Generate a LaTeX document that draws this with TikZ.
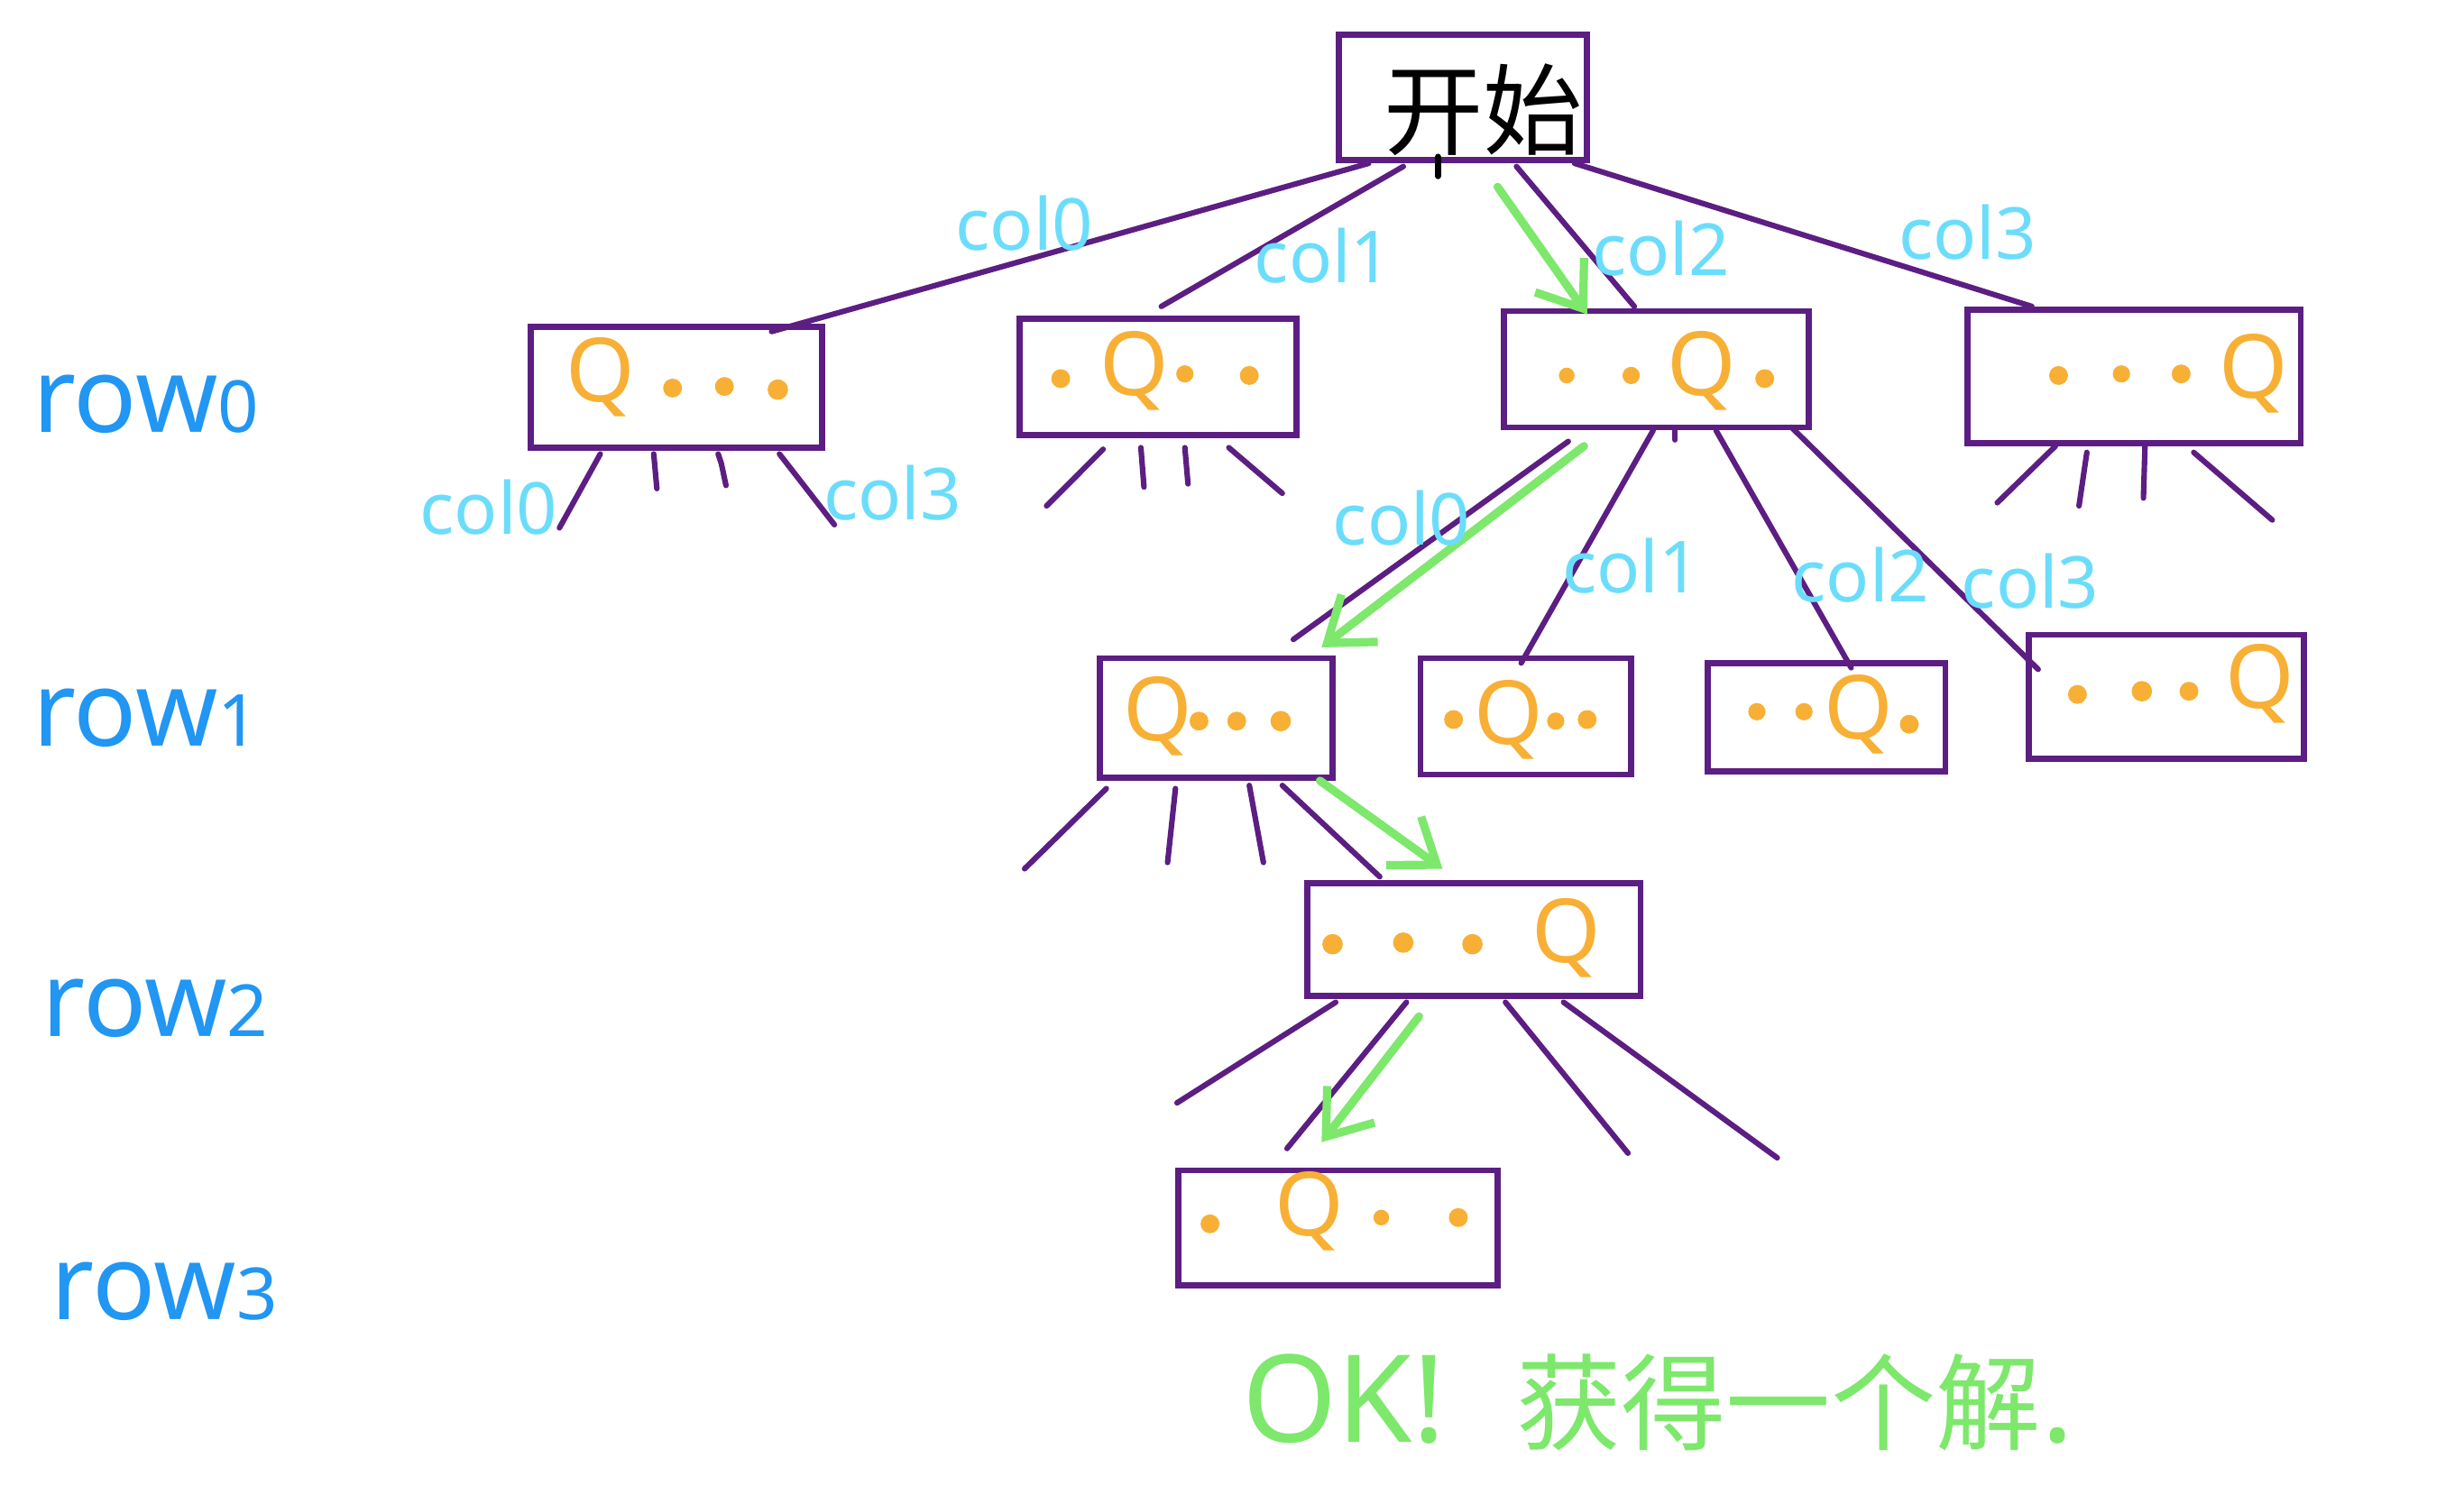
\documentclass[tikz,border=0pt]{standalone}
\usepackage{fontspec}
\setmainfont{Noto Sans}
\newfontfamily\cjk{Noto Sans CJK SC}
\usetikzlibrary{calc,arrows.meta}
\definecolor{pur}{HTML}{5C1E82}
\definecolor{org}{HTML}{F7B035}
\definecolor{lblue}{HTML}{6BDDFB}
\definecolor{dblue}{HTML}{2196F3}
\definecolor{grn}{HTML}{7DE86C}
\begin{document}
\begin{tikzpicture}[x=0.01cm,y=-0.01cm,
  qbox/.style={draw=pur,line width=1.1pt,inner sep=0pt},
  edge/.style={draw=pur,line width=1pt,line cap=round},
  garrow/.style={draw=grn,line width=1.5pt,line cap=round,-{Straight Barb[length=2.6mm,width=3.8mm,line width=1.5pt]}},
  qq/.style={text=org,font=\fontsize{16}{16}\selectfont,inner sep=0pt},
  collab/.style={text=lblue,font=\fontsize{13}{13}\selectfont,inner sep=0pt},
  rowlab/.style={text=dblue,font=\fontsize{19}{19}\selectfont,inner sep=0pt},
  dotf/.style={fill=org}
]
\useasboundingbox (0,0) rectangle (1568,957);

% ---------- boxes ----------
\node[qbox,minimum width=1.58cm,minimum height=0.80cm] (top) at (931,62) {};
\node[qbox,minimum width=1.85cm,minimum height=0.77cm] (B00) at (430.5,246.5) {};
\node[qbox,minimum width=1.76cm,minimum height=0.74cm] (B01) at (737,240) {};
\node[qbox,minimum width=1.94cm,minimum height=0.74cm] (B02) at (1054,235) {};
\node[qbox,minimum width=2.12cm,minimum height=0.85cm] (B03) at (1358,239.5) {};
\node[qbox,minimum width=1.48cm,minimum height=0.76cm] (B10) at (774,457) {};
\node[qbox,minimum width=1.34cm,minimum height=0.74cm] (B11) at (971,456) {};
\node[qbox,minimum width=1.51cm,minimum height=0.69cm] (B12) at (1162.5,456.5) {};
\node[qbox,minimum width=1.75cm,minimum height=0.79cm] (B13) at (1378.5,443.5) {};
\node[qbox,minimum width=2.12cm,minimum height=0.72cm] (B20) at (938,598) {};
\node[qbox,minimum width=2.03cm,minimum height=0.73cm] (B30) at (851.5,781.5) {};

% ---------- start text ----------
\node[font=\cjk\fontsize{18}{18}\selectfont,text=black,inner sep=0pt] (start) at (944,70) {开始};
\draw[black,line width=1.2pt,line cap=round] ($(top.south west)+(65,-4)$) -- ++(0,12);

% ---------- box contents ----------
% B00: Q . . .
\node[qq] (q00) at (382,240) {Q};
\fill[dotf] (428,247) circle (0.06cm) (461,246) circle (0.06cm) (495,248) circle (0.065cm);
% B01: . Q . .
\node[qq] (q01) at (722,236) {Q};
\fill[dotf] (675,241) circle (0.06cm) (754,238) circle (0.055cm) (795,239) circle (0.06cm);
% B02: . . Q .
\node[qq] (q02) at (1083,236) {Q};
\fill[dotf] (997,239) circle (0.05cm) (1038,239) circle (0.055cm) (1123,241) circle (0.06cm);
% B03: . . . Q
\node[qq] (q03) at (1434,238) {Q};
\fill[dotf] (1310,239) circle (0.06cm) (1350,238) circle (0.055cm) (1388,238) circle (0.06cm);
% B10: Q . . .
\node[qq] (q10) at (737,456) {Q};
\fill[dotf] (763,459) circle (0.06cm) (787,459) circle (0.06cm) (815,459) circle (0.065cm);
% B11: . Q . .
\node[qq] (q11) at (960,458) {Q};
\fill[dotf] (925,458) circle (0.06cm) (990,459) circle (0.055cm) (1010,458) circle (0.06cm);
% B12: . . Q .
\node[qq] (q12) at (1183,455) {Q};
\fill[dotf] (1118,453) circle (0.055cm) (1148,453) circle (0.055cm) (1215,461) circle (0.06cm);
% B13: . . . Q
\node[qq] (q13) at (1438,435) {Q};
\fill[dotf] (1322,442) circle (0.06cm) (1363,440) circle (0.065cm) (1393,440) circle (0.06cm);
% B20: . . . Q
\node[qq] (q20) at (997,597) {Q};
\fill[dotf] (848,601) circle (0.065cm) (893,600) circle (0.065cm) (937,601) circle (0.065cm);
% B30: . Q . .
\node[qq] (q30) at (833,771) {Q};
\fill[dotf] (770,779) circle (0.06cm) (879,775) circle (0.05cm) (928,775) circle (0.06cm);

% ---------- edges from start ----------
\draw[edge] ($(top.south west)+(21,0)$) -- ($(B00.north west)+(155,5)$);
\draw[edge] ($(top.south west)+(43,2)$) -- ($(B01.north west)+(92,-6)$);
\draw[edge] ($(top.south west)+(115,2)$) -- ($(B02.north west)+(85,-1)$);
\draw[edge] ($(top.south east)+(-10,0)$) -- ($(B03.north west)+(43,0)$);

% ---------- stubs ----------
\coordinate (s00a) at (356,336); \coordinate (s00b) at (418,311);
\coordinate (s00c) at (462,309); \coordinate (s00d) at (531,334);
\draw[edge] ($(B00.south west)+(46,2)$) -- (s00a);
\draw[edge] ($(B00.south west)+(80,2)$) -- (s00b);
\draw[edge] ($(B00.south west)+(121,2)$) -- ++(2,6) -- (s00c);
\draw[edge] ($(B00.south west)+(160,2)$) -- (s00d);

\coordinate (s01a) at (666,322); \coordinate (s01b) at (728,310);
\coordinate (s01c) at (756,308); \coordinate (s01d) at (816,314);
\draw[edge] ($(B01.south west)+(55,7)$) -- (s01a);
\draw[edge] ($(B01.south west)+(79,6)$) -- (s01b);
\draw[edge] ($(B01.south west)+(107,6)$) -- (s01c);
\draw[edge] ($(B01.south west)+(135,6)$) -- (s01d);

\coordinate (s03a) at (1271,320); \coordinate (s03b) at (1323,322);
\coordinate (s03c) at (1364,317); \coordinate (s03d) at (1446,331);
\draw[edge] ($(B03.south west)+(58,0)$) -- (s03a);
\draw[edge] ($(B03.south west)+(78,4)$) -- (s03b);
\draw[edge] ($(B03.south west)+(115,0)$) -- (s03c);
\draw[edge] ($(B03.south west)+(146,4)$) -- (s03d);

% ---------- B02 children ----------
\draw[edge] ($(B02.south west)+(43,7)$) -- ($(B10.north west)+(125,-10)$);
\draw[edge] ($(B02.south west)+(97,0)$) -- ($(B11.north west)+(66,5)$);
\draw[edge] ($(B02.south west)+(137,0)$) -- ($(B12.north west)+(93,5)$);
\draw[edge] ($(B02.south west)+(185,-2)$) -- ($(B13.north west)+(8,24)$);
\draw[edge] ($(B02.south west)+(111,0)$) -- ++(0,6);

% ---------- B10 children ----------
\coordinate (s10a) at (652,553); \coordinate (s10b) at (743,549);
\coordinate (s10c) at (804,549);
\draw[edge] ($(B10.south west)+(6,5)$) -- (s10a);
\draw[edge] ($(B10.south west)+(50,5)$) -- (s10b);
\draw[edge] ($(B10.south west)+(97,3)$) -- (s10c);
\draw[edge] ($(B10.south west)+(118,3)$) -- ($(B20.north west)+(48,-2)$);

% ---------- B20 children ----------
\coordinate (s20a) at (749,702); \coordinate (s20c) at (1036,734);
\coordinate (s20d) at (1131,737);
\draw[edge] ($(B20.south west)+(20,2)$) -- (s20a);
\draw[edge] ($(B20.south west)+(65,2)$) -- ($(B30.north west)+(71,-12)$);
\draw[edge] ($(B20.south west)+(128,2)$) -- (s20c);
\draw[edge] ($(B20.south west)+(165,2)$) -- (s20d);

% ---------- green path ----------
\draw[garrow] ($(top.south west)+(103,15)$) -- ($(B02.north west)+(55,4)$);
\draw[garrow] ($(B02.south west)+(53,10)$) -- ($(B10.north west)+(143,-5)$);
\draw[garrow] ($(B10.south east)+(-10,0)$) -- ($(B20.north west)+(88,-7)$);
\draw[garrow] ($(B20.south west)+(73,11)$) -- ($(B30.north west)+(93,-16)$);

% ---------- column labels ----------
\node[collab] (c0) at (652,142) {col0};
\node[collab] (c1) at (842,163) {col1};
\node[collab] (c2) at (1057,158) {col2};
\node[collab] (c3) at (1252,148) {col3};
\node[collab] (c00) at (311,323) {col0};
\node[collab] (c03) at (568,314) {col3};
\node[collab] (c20) at (892,330) {col0};
\node[collab] (c21) at (1038,360) {col1};
\node[collab] (c22) at (1184,366) {col2};
\node[collab] (c23) at (1292,370) {col3};

% ---------- row labels ----------
\node[rowlab,anchor=base west] (r0) at (20,275) {row{\fontsize{13}{13}\selectfont 0}};
\node[rowlab,anchor=base west] (r1) at (20,475) {row{\fontsize{13}{13}\selectfont 1}};
\node[rowlab,anchor=base west] (r2) at (26,660) {row{\fontsize{13}{13}\selectfont 2}};
\node[rowlab,anchor=base west] (r3) at (32,840) {row{\fontsize{13}{13}\selectfont 3}};

% ---------- result ----------
\node[text=grn,font=\fontsize{22}{22}\selectfont,anchor=base west,inner sep=0pt] (ok) at (790,918)
  {OK!\hspace{0.45cm}{\cjk\fontsize{19}{19}\selectfont 获得一个解}.};
\end{tikzpicture}
\end{document}
